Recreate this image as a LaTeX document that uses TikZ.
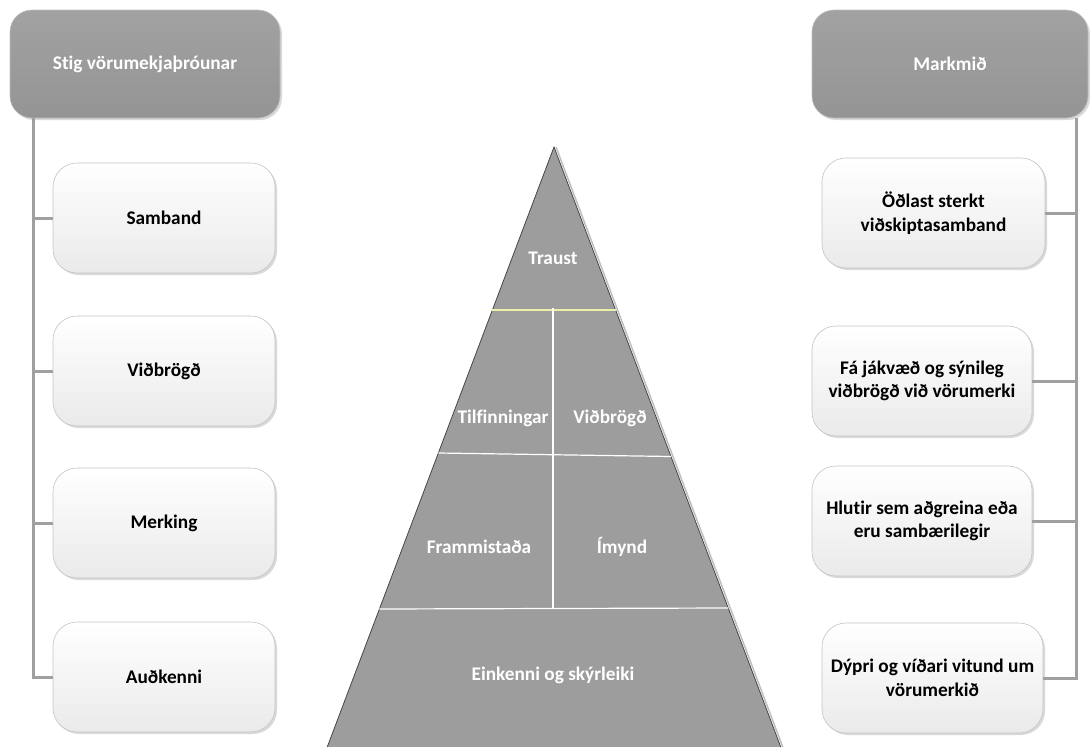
\documentclass[tikz,border=0pt]{standalone}
\usepackage{fontspec}
\setmainfont{Carlito}[Ligatures=NoCommon]
\usetikzlibrary{shadows,calc}

\definecolor{hdrtop}{RGB}{162,162,162}
\definecolor{hdrbot}{RGB}{148,148,148}
\definecolor{hdredge}{RGB}{190,190,190}
\definecolor{boxbot}{RGB}{234,234,234}
\definecolor{boxedge}{RGB}{196,196,196}
\definecolor{linkgray}{RGB}{160,160,160}
\definecolor{pyrfill}{RGB}{157,157,157}
\definecolor{pyredge}{RGB}{70,70,70}
\definecolor{paleyellow}{RGB}{236,240,170}

\begin{document}
\begin{tikzpicture}[x=1pt,y=-1pt,
  every node/.style={font=\fontsize{19.3}{23.5}\selectfont\bfseries},
  boxshadow/.style={drop shadow={shadow xshift=2pt,shadow yshift=-2pt,opacity=0.25,fill=black!60}},
  hdrbox/.style={rounded corners=22pt,minimum width=270pt,minimum height=108pt,inner sep=0pt,
    top color=hdrtop,bottom color=hdrbot,draw=hdredge,line width=0.6pt,text=white,boxshadow},
  itembox/.style={rounded corners=24pt,minimum height=110pt,inner sep=0pt,align=center,
    top color=white,bottom color=boxbot,draw=boxedge,line width=0.6pt,text=black,boxshadow},
  link/.style={draw=linkgray,line width=3pt},
  pyrtext/.style={text=white},
  divider/.style={draw=white,line width=1.2pt}]

\useasboundingbox (0,0) rectangle (1090,747);

% ---------- left column: stages ----------
\node[hdrbox] (hdrL) at (145,64) {Stig vörumekjaþróunar};
\node[itembox,minimum width=222pt] (samband) at (164,218) {Samband};
\node[itembox,minimum width=222pt] (vidbrogd) at (164,371) {Viðbrögð};
\node[itembox,minimum width=222pt] (merking) at (164,523) {Merking};
\node[itembox,minimum width=222pt] (audkenni) at (164,677) {Auðkenni};

\coordinate (spineL) at (33,118);
\draw[link] (spineL) |- (audkenni.west);
\foreach \b in {samband,vidbrogd,merking}
  \draw[link] (\b.west) -- (\b.west -| spineL);

% ---------- right column: goals ----------
\node[hdrbox,minimum width=276pt] (hdrR) at (950,64) {Markmið};
\node[itembox,minimum width=223pt] (odlast) at (933.5,213) {Öðlast sterkt\\viðskiptasamband};
\node[itembox,minimum width=220pt] (fa) at (922,381) {Fá jákvæð og sýnileg\\viðbrögð við vörumerki};
\node[itembox,minimum width=220pt] (hlutir) at (922,521) {Hlutir sem aðgreina eða\\eru sambærilegir};
\node[itembox,minimum width=221pt] (dypri) at (932.5,678) {Dýpri og víðari vitund um\\vörumerkið};

\coordinate (spineR) at (1076,118);
\draw[link] (spineR) |- (dypri.east);
\foreach \b in {odlast,fa,hlutir}
  \draw[link] (\b.east) -- (\b.east -| spineR);

% ---------- pyramid ----------
\coordinate (apex) at (554,147);
\coordinate (baseL) at (327.25,747);
\coordinate (baseR) at (780.75,747);
\draw[black!25,line width=1.5pt] ($(apex)+(2,0)$) -- ($(baseR)+(2,0)$);
\fill[pyrfill] (apex) -- (baseR) -- (baseL) -- cycle;
\draw[pyredge,line width=0.8pt] (baseL) -- (apex) -- (baseR);

\coordinate (d1L) at (492.4,310);   \coordinate (d1R) at (615.6,310);
\coordinate (d2L) at (438.3,453);   \coordinate (d2R) at (671,456.5);
\coordinate (d3L) at (379.4,609);   \coordinate (d3R) at (728.3,608);
\coordinate (vTop) at (553,308);    \coordinate (vBot) at (553,609);

\draw[draw=paleyellow,line width=1.2pt] (d1L) -- (d1R);
\draw[divider] (d2L) -- (d2R);
\draw[divider] (d3L) -- (d3R);
\draw[divider] (vTop) -- (vBot);

\node[pyrtext] (traust) at (553,258) {Traust};
\node[pyrtext] (tilf) at (503,418) {Tilfinningar};
\node[pyrtext] (vidbr) at (610,418) {Viðbrögð};
\node[pyrtext] (framm) at (479,547) {Frammistaða};
\node[pyrtext] (imynd) at (622,547) {Ímynd};
\node[pyrtext] (eink) at (553,675) {Einkenni og skýrleiki};
\end{tikzpicture}
\end{document}
